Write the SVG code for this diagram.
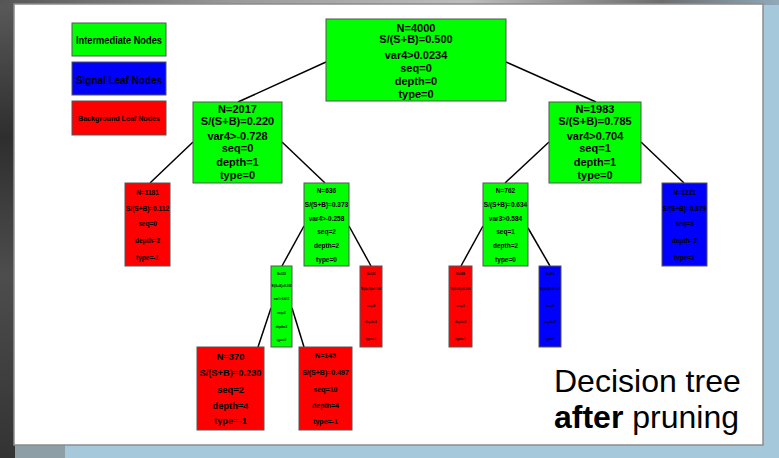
<svg xmlns="http://www.w3.org/2000/svg" width="779" height="458" viewBox="0 0 779 458">
  <defs>
    <linearGradient id="leftStrip" x1="0" y1="0" x2="0" y2="1">
      <stop offset="0" stop-color="#5a5a5a"/>
      <stop offset="0.3" stop-color="#2e2e2e"/>
      <stop offset="0.6" stop-color="#4d4d4d"/>
      <stop offset="1" stop-color="#333"/>
    </linearGradient>
    <linearGradient id="topStrip" x1="0" y1="0" x2="1" y2="0">
      <stop offset="0" stop-color="#555"/>
      <stop offset="0.3" stop-color="#9a9a9a"/>
      <stop offset="0.6" stop-color="#bdbdbd"/>
      <stop offset="0.85" stop-color="#6d6d6d"/>
      <stop offset="1" stop-color="#8fa9b8"/>
    </linearGradient>
  </defs>
  <style>
    .node rect { stroke: #555; stroke-width: 1; }
    .inter { fill: #00ff00; }
    .sig { fill: #0000ff; }
    .bkg { fill: #ff0000; }
    text { font-family: "Liberation Sans", Arial, sans-serif; font-weight: bold; fill: #000; text-anchor: middle; }
    .t11 { font-size: 11px; }
    .t6 { font-size: 6.5px; }
    .t3 { font-size: 3px; }
    .t9 { font-size: 9.3px; }
    .t7 { font-size: 7px; }
    .edges line { stroke: #000; stroke-width: 1.5; }
    .caption { font-size: 32px; font-weight: normal; text-anchor: start; }
  </style>

  <!-- surrounding backdrop and white panel -->
  <rect x="0" y="0" width="779" height="458" fill="#a5c8da"/>
  <rect x="0" y="0" width="15" height="458" fill="url(#leftStrip)"/>
  <rect x="0" y="0" width="779" height="5" fill="url(#topStrip)"/>
  <rect x="15" y="445" width="50" height="13" fill="#8e9ea6"/>
  <rect x="14" y="4" width="749" height="441" fill="#fff" stroke="#8c8c8c" stroke-width="1.5"/>

  <!-- legend -->
  <g id="legend-intermediate" class="node">
    <rect class="inter" x="72" y="23" width="94" height="33"/>
    <text x="119" y="44" font-size="10" textLength="86" lengthAdjust="spacingAndGlyphs">Intermediate Nodes</text>
  </g>
  <g id="legend-signal" class="node">
    <rect class="sig" x="72" y="62" width="94" height="33"/>
    <text x="119" y="83.5" font-size="11.5" textLength="86" lengthAdjust="spacingAndGlyphs">Signal Leaf Nodes</text>
  </g>
  <g id="legend-background" class="node">
    <rect class="bkg" x="72" y="101" width="94" height="34"/>
    <text x="119" y="120.5" font-size="7" textLength="82" lengthAdjust="spacingAndGlyphs">Background Leaf Nodes</text>
  </g>

  <!-- connectors -->
  <g class="edges">
    <line x1="326" y1="62" x2="238" y2="102"/>
    <line x1="506" y1="62" x2="596" y2="102"/>
    <line x1="193" y1="142" x2="150" y2="183"/>
    <line x1="282" y1="142" x2="325" y2="183"/>
    <line x1="549" y1="142" x2="505" y2="183"/>
    <line x1="641" y1="142" x2="684" y2="183"/>
    <line x1="304" y1="226" x2="282" y2="266"/>
    <line x1="349" y1="226" x2="371" y2="266"/>
    <line x1="483" y1="226" x2="461" y2="266"/>
    <line x1="528" y1="228" x2="550" y2="266"/>
    <line x1="271" y1="308" x2="258" y2="347"/>
    <line x1="292" y1="308" x2="304" y2="347"/>
  </g>

  <!-- depth 0 -->
  <g id="node-root" class="node">
    <rect class="inter" x="326" y="19" width="180" height="82"/>
    <text class="t11" x="416" y="31.7">N=4000</text>
    <text class="t11" x="416" y="43">S/(S+B)=0.500</text>
    <text class="t11" x="416" y="58.5">var4&gt;0.0234</text>
    <text class="t11" x="416" y="71.5">seq=0</text>
    <text class="t11" x="416" y="84.5">depth=0</text>
    <text class="t11" x="416" y="97.7">type=0</text>
  </g>

  <!-- depth 1 -->
  <g id="node-2017" class="node">
    <rect class="inter" x="193" y="102" width="89" height="81"/>
    <text class="t11" x="237.5" y="112.5">N=2017</text>
    <text class="t11" x="237.5" y="124.5">S/(S+B)=0.220</text>
    <text class="t11" x="237.5" y="139.5">var4&gt;-0.728</text>
    <text class="t11" x="237.5" y="152">seq=0</text>
    <text class="t11" x="237.5" y="166">depth=1</text>
    <text class="t11" x="237.5" y="178.5">type=0</text>
  </g>
  <g id="node-1983" class="node">
    <rect class="inter" x="549" y="102" width="92" height="81"/>
    <text class="t11" x="595" y="112.5">N=1983</text>
    <text class="t11" x="595" y="124.5">S/(S+B)=0.785</text>
    <text class="t11" x="595" y="139.5">var4&gt;0.704</text>
    <text class="t11" x="595" y="152">seq=1</text>
    <text class="t11" x="595" y="166">depth=1</text>
    <text class="t11" x="595" y="178.5">type=0</text>
  </g>

  <!-- depth 2 -->
  <g id="node-1181" class="node">
    <rect class="bkg" x="125" y="183" width="45" height="83"/>
    <text class="t6" x="147.5" y="195.3">N=1181</text>
    <text class="t6" x="147.5" y="211.3">S/(S+B)=0.112</text>
    <text class="t6" x="147.5" y="226">seq=0</text>
    <text class="t6" x="147.5" y="243.3">depth=2</text>
    <text class="t6" x="147.5" y="260">type=-1</text>
  </g>
  <g id="node-636" class="node">
    <rect class="inter" x="304" y="183" width="45" height="83"/>
    <text class="t6" x="326.5" y="193.3">N=636</text>
    <text class="t6" x="326.5" y="207.3">S/(S+B)=0.373</text>
    <text class="t6" x="326.5" y="221.3">var4&gt;-0.258</text>
    <text class="t6" x="326.5" y="234">seq=2</text>
    <text class="t6" x="326.5" y="248">depth=2</text>
    <text class="t6" x="326.5" y="261.6">type=0</text>
  </g>
  <g id="node-762" class="node">
    <rect class="inter" x="483" y="183" width="45" height="83"/>
    <text class="t6" x="505.5" y="193.3">N=762</text>
    <text class="t6" x="505.5" y="207.3">S/(S+B)=0.634</text>
    <text class="t6" x="505.5" y="221.3">var3&gt;0.584</text>
    <text class="t6" x="505.5" y="234">seq=1</text>
    <text class="t6" x="505.5" y="248">depth=2</text>
    <text class="t6" x="505.5" y="261.6">type=0</text>
  </g>
  <g id="node-1221" class="node">
    <rect class="sig" x="662" y="183" width="45" height="83"/>
    <text class="t6" x="684.5" y="195.3">N=1221</text>
    <text class="t6" x="684.5" y="211.3">S/(S+B)=0.879</text>
    <text class="t6" x="684.5" y="226">seq=3</text>
    <text class="t6" x="684.5" y="243.3">depth=2</text>
    <text class="t6" x="684.5" y="260">type=1</text>
  </g>

  <!-- depth 3 -->
  <g id="node-515" class="node">
    <rect class="inter" x="271" y="266" width="21" height="81"/>
    <text class="t3" x="281.5" y="275">N=515</text>
    <text class="t3" x="281.5" y="286.7">S/(S+B)=0.305</text>
    <text class="t3" x="281.5" y="300">var1&gt;0.615</text>
    <text class="t3" x="281.5" y="313.7">seq=2</text>
    <text class="t3" x="281.5" y="327.7">depth=3</text>
    <text class="t3" x="281.5" y="341">type=0</text>
  </g>
  <g id="node-121" class="node">
    <rect class="bkg" x="360" y="266" width="22" height="81"/>
    <text class="t3" x="371" y="275">N=121</text>
    <text class="t3" x="371" y="290.3">S/(S+B)=0.248</text>
    <text class="t3" x="371" y="307">seq=6</text>
    <text class="t3" x="371" y="322.7">depth=3</text>
    <text class="t3" x="371" y="340">type=-1</text>
  </g>
  <g id="node-288" class="node">
    <rect class="bkg" x="449" y="266" width="23" height="81"/>
    <text class="t3" x="460.5" y="275">N=288</text>
    <text class="t3" x="460.5" y="290.3">S/(S+B)=0.359</text>
    <text class="t3" x="460.5" y="307">seq=1</text>
    <text class="t3" x="460.5" y="322.7">depth=3</text>
    <text class="t3" x="460.5" y="340">type=-1</text>
  </g>
  <g id="node-474" class="node">
    <rect class="sig" x="539" y="266" width="22" height="81"/>
    <text class="t3" x="550" y="275">N=474</text>
    <text class="t3" x="550" y="290.3">S/(S+B)=0.801</text>
    <text class="t3" x="550" y="307">seq=5</text>
    <text class="t3" x="550" y="322.7">depth=3</text>
    <text class="t3" x="550" y="340">type=1</text>
  </g>

  <!-- depth 4 -->
  <g id="node-370" class="node">
    <rect class="bkg" x="197" y="347" width="67" height="83"/>
    <text class="t9" x="230.5" y="360">N=370</text>
    <text class="t9" x="230.5" y="375.6">S/(S+B)=0.230</text>
    <text class="t9" x="230.5" y="392.6">seq=2</text>
    <text class="t9" x="230.5" y="409">depth=4</text>
    <text class="t9" x="230.5" y="424.3">type=-1</text>
  </g>
  <g id="node-145" class="node">
    <rect class="bkg" x="299" y="347" width="53" height="83"/>
    <text class="t7" x="325.5" y="358.2">N=145</text>
    <text class="t7" x="325.5" y="374.8">S/(S+B)=0.497</text>
    <text class="t7" x="325.5" y="391.8">seq=10</text>
    <text class="t7" x="325.5" y="408.2">depth=4</text>
    <text class="t7" x="325.5" y="423.5">type=-1</text>
  </g>

  <!-- caption -->
  <text class="caption" x="554" y="392">Decision tree</text>
  <text class="caption" x="554" y="428"><tspan font-weight="bold">after</tspan> pruning</text>
</svg>
